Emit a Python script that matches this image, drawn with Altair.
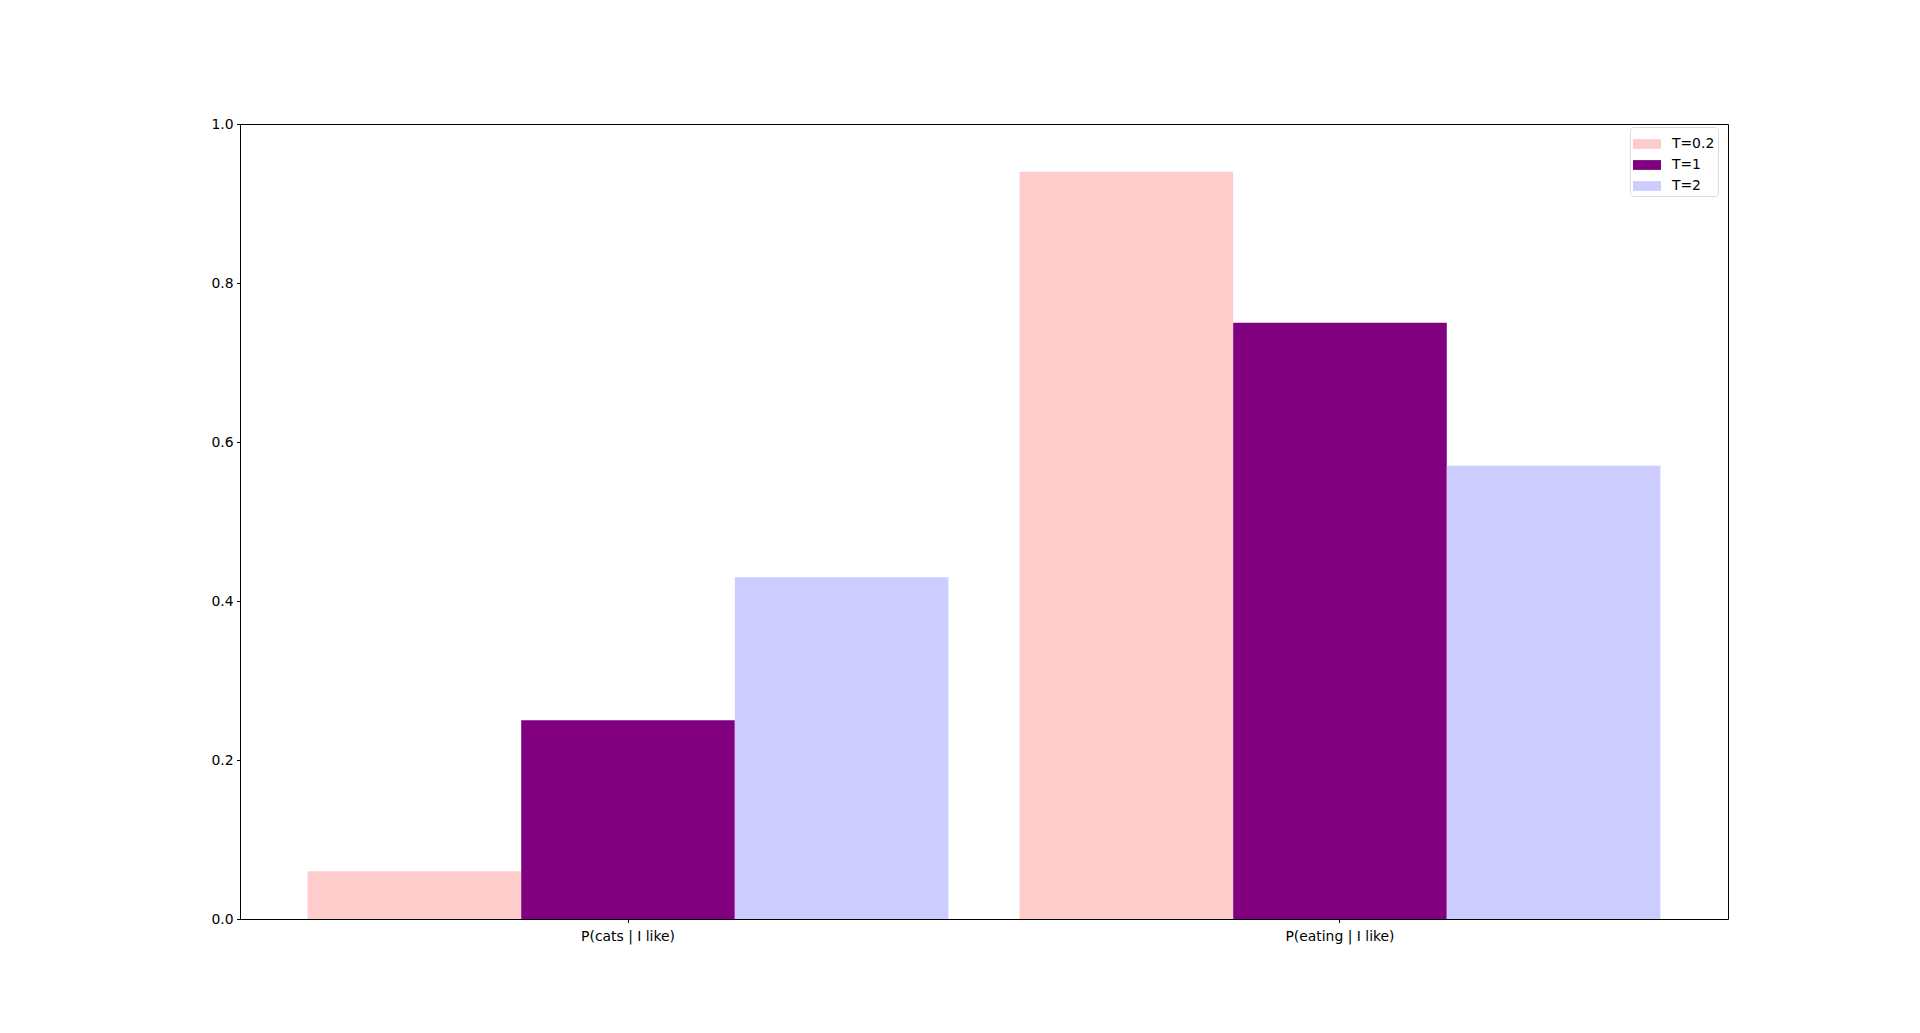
import altair as alt
import pandas as pd

categories = ["P(cats | I like)", "P(eating | I like)"]
series = ["T=0.2", "T=1", "T=2"]
vals_t02 = [0.06, 0.94]
vals_t1 = [0.25, 0.75]
vals_t2 = [0.43, 0.57]
colors = ["#ffcccc", "#800080", "#ccccff"]
y_ticks = [0.0, 0.2, 0.4, 0.6, 0.8, 1.0]

rows = []
for s, vals in zip(series, [vals_t02, vals_t1, vals_t2]):
    for c, v in zip(categories, vals):
        rows.append({"category": c, "series": s, "value": v})
df = pd.DataFrame(rows)

FONT = "DejaVu Sans"
FS = 13.9

chart = alt.Chart(df).mark_bar().encode(
    x=alt.X("category:N", sort=categories,
            scale=alt.Scale(paddingInner=0.1, paddingOuter=0.095),
            axis=alt.Axis(title=None, labelAngle=0, domain=False, ticks=True,
                          tickSize=3.5, tickColor="black", tickWidth=1,
                          labelPadding=7, labelColor="black",
                          labelFont=FONT, labelFontSize=FS)),
    xOffset=alt.XOffset("series:N", sort=series,
                        scale=alt.Scale(paddingInner=0, paddingOuter=0)),
    y=alt.Y("value:Q", scale=alt.Scale(domain=[0, 1], nice=False, zero=True),
            axis=alt.Axis(title=None, values=y_ticks, format=".1f", grid=False,
                          domain=False, tickSize=3.5, tickColor="black",
                          tickWidth=1, labelPadding=3.5, labelColor="black",
                          labelFont=FONT, labelFontSize=FS)),
    color=alt.Color("series:N", sort=series,
                    scale=alt.Scale(domain=series, range=colors),
                    legend=alt.Legend(title=None, orient="none",
                                      legendX=1390, legendY=3,
                                      symbolType="M-1,-0.35L1,-0.35L1,0.35L-1,0.35Z",
                                      symbolSize=784, symbolStrokeWidth=0,
                                      symbolOpacity=1,
                                      labelFont=FONT, labelFontSize=FS,
                                      labelColor="black", labelOffset=11,
                                      rowPadding=0, padding=3,
                                      fillColor="white", strokeColor="#dddddd",
                                      cornerRadius=3)),
).properties(
    width=1488, height=795,
    autosize=alt.AutoSizeParams(type="none"),
    padding={"left": 232, "top": 116, "right": 170, "bottom": 80},
).configure_view(
    stroke="black", strokeWidth=1
)

chart.save("out.html", embed_options={"renderer": "svg", "actions": False})
